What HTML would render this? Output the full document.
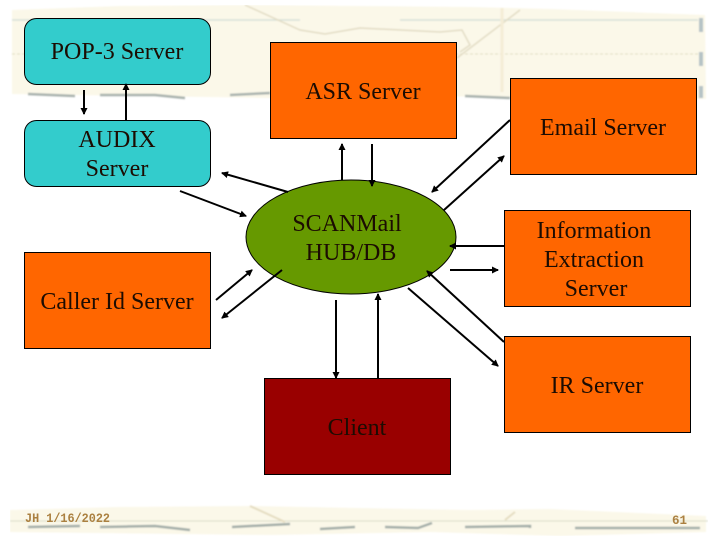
<!DOCTYPE html>
<html>
<head>
<meta charset="utf-8">
<style>
html,body{margin:0;padding:0;background:#fff;}
svg{display:block;}
text{font-family:"Liberation Serif",serif;font-size:24px;text-anchor:middle;fill:#1c0c02;}
.ft{font-family:"Liberation Mono",monospace;font-size:13px;font-weight:bold;fill:#ab8040;text-anchor:start;}
</style>
</head>
<body>
<svg width="720" height="540" viewBox="0 0 720 540" xmlns="http://www.w3.org/2000/svg">
<defs>
<marker id="a" markerWidth="7" markerHeight="7" refX="6" refY="3.5" orient="auto" markerUnits="userSpaceOnUse"><path d="M0,0L7,3.5L0,7z" fill="#000"/></marker>
<filter id="soft" x="0" y="0" width="100%" height="100%"><feGaussianBlur stdDeviation="0.7"/></filter>
</defs>
<rect width="720" height="540" fill="#fff"/>

<g filter="url(#soft)">
<!-- top paper band -->
<path d="M12,10 L120,6 L250,5 L470,7 L550,9 L705,15 L706,99 L560,98 L430,96 L270,98 L12,94 Z" fill="#fbf8e9"/>
<path d="M12,20 H300 M400,20 H698" stroke="#d7e0d8" stroke-width="1.5" fill="none"/>
<path d="M12,54 H200 M300,54 H700" stroke="#e0dcc0" stroke-width="1" stroke-dasharray="3 2" fill="none"/>
<path d="M245,5 L300,30 L325,34 L360,28 L440,32 L462,30 L470,45 L460,52 M520,10 L457,58" stroke="#e2dcc4" stroke-width="1.5" fill="none"/>
<path d="M502,8 V92" stroke="#f4ecd6" stroke-width="3" fill="none"/>
<path d="M28,94 L75,96 M100,95 L155,95 L185,98 M230,95 L270,93 M465,96 L510,98" stroke="#a9b2ae" stroke-width="2.5" fill="none"/>
<path d="M701,18 V98" stroke="#b5c2c6" stroke-width="4" stroke-dasharray="14 20" fill="none"/>

<!-- bottom paper band -->
<path d="M10,510 L120,507 L250,506 L470,510 L550,509 L706,516 L706,532 L560,536 L430,532 L270,535 L10,532 Z" fill="#fbf8e9"/>
<path d="M10,521 H708" stroke="#d8dcc8" stroke-width="1" fill="none"/>
<path d="M250,506 L285,522 M515,512 L505,520" stroke="#e4dcc0" stroke-width="2" fill="none"/>
<path d="M28,527 L80,526 M100,527 L155,526 L190,530 M232,527 L290,524 M320,529 L355,527 M385,527 L418,528 L432,523 M465,527 L530,526 L530,528 M575,528 L700,528" stroke="#a3ada8" stroke-width="2.5" fill="none"/>
</g>

<!-- shapes -->
<g stroke="#000" stroke-width="1">
<rect x="24.5" y="18.5" width="186" height="66" rx="12" fill="#33cccc"/>
<rect x="24.5" y="120.5" width="186" height="66" rx="12" fill="#33cccc"/>
<rect x="24.5" y="252.5" width="186" height="96" fill="#ff6600"/>
<rect x="270.5" y="42.5" width="186" height="96" fill="#ff6600"/>
<rect x="510.5" y="78.5" width="186" height="96" fill="#ff6600"/>
<rect x="504.5" y="210.5" width="186" height="96" fill="#ff6600"/>
<rect x="504.5" y="336.5" width="186" height="96" fill="#ff6600"/>
<rect x="264.5" y="378.5" width="186" height="96" fill="#990000"/>
<ellipse cx="351" cy="237" rx="105" ry="57" fill="#669900"/>
</g>

<!-- arrows -->
<g stroke="#000" stroke-width="2" fill="none" marker-end="url(#a)">
<line x1="84" y1="90" x2="84" y2="114"/>
<line x1="126" y1="120" x2="126" y2="84"/>
<line x1="288" y1="192" x2="222" y2="173"/>
<line x1="180" y1="191" x2="246" y2="216"/>
<line x1="342" y1="180" x2="342" y2="144"/>
<line x1="372" y1="144" x2="372" y2="186"/>
<line x1="510" y1="120" x2="432" y2="192"/>
<line x1="444" y1="210" x2="504" y2="156"/>
<line x1="504" y1="246" x2="450" y2="246"/>
<line x1="450" y1="270" x2="498" y2="270"/>
<line x1="504" y1="342" x2="427" y2="271"/>
<line x1="408" y1="288" x2="498" y2="366"/>
<line x1="336" y1="300" x2="336" y2="378"/>
<line x1="378" y1="378" x2="378" y2="294"/>
<line x1="216" y1="300" x2="252" y2="270"/>
<line x1="282" y1="270" x2="222" y2="318"/>
</g>

<!-- labels -->
<text x="117" y="59">POP-3 Server</text>
<text x="363" y="99">ASR Server</text>
<text x="117" y="147">AUDIX</text>
<text x="117" y="176">Server</text>
<text x="603" y="135">Email Server</text>
<text x="594" y="238">Information</text>
<text x="594" y="267">Extraction</text>
<text x="596" y="296">Server</text>
<text x="347" y="231">SCANMail</text>
<text x="351" y="260">HUB/DB</text>
<text x="117" y="309">Caller Id Server</text>
<text x="597" y="393">IR Server</text>
<text x="357" y="435">Client</text>

<text class="ft" x="25" y="522" textLength="85" lengthAdjust="spacingAndGlyphs">JH 1/16/2022</text>
<text class="ft" x="672" y="524" textLength="15" lengthAdjust="spacingAndGlyphs">61</text>
</svg>
</body>
</html>
